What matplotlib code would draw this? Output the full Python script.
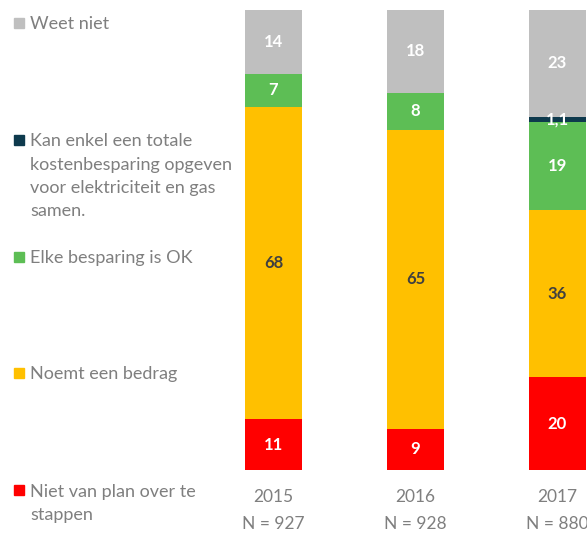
import matplotlib
matplotlib.use("Agg")
import matplotlib.pyplot as plt
import numpy as np

plt.rcParams['font.family'] = ['Lato', 'DejaVu Sans']

years = ["2015", "2016", "2017"]
n_labels = ["N = 927", "N = 928", "N = 880"]
categories = ["Niet van plan over te\nstappen", "Noemt een bedrag", "Elke besparing is OK",
              "Kan enkel een totale\nkostenbesparing opgeven\nvoor elektriciteit en gas\nsamen.",
              "Weet niet"]
niet_van_plan = [11, 9, 20]
noemt_bedrag = [68, 65, 36]
elke_besparing = [7, 8, 19]
kan_enkel_totaal = [0, 0, 1.1]
weet_niet = [14, 18, 23]

series = [niet_van_plan, noemt_bedrag, elke_besparing, kan_enkel_totaal, weet_niet]
colors = ["#FF0000", "#FFC000", "#5DBE55", "#0E3A4D", "#BFBFBF"]
label_colors = ["white", "#404040", "white", "white", "white"]

W, H = 587, 535
fig = plt.figure(figsize=(W / 100, H / 100), dpi=100)
ax = fig.add_axes([230 / W, (H - 470) / H, 357 / W, 460 / H])

x = np.arange(len(years))
totals = np.sum(np.array(series, dtype=float), axis=0)
bottom = np.zeros(len(years))
for vals, col, lc in zip(series, colors, label_colors):
    vals = np.array(vals, dtype=float)
    share = vals / totals * 100
    ax.bar(x, share, bottom=bottom, width=0.40, color=col, edgecolor='none')
    for xi, v, s, b in zip(x, vals, share, bottom):
        if v > 0:
            txt = f"{v:g}".replace('.', ',')
            ax.text(xi, b + s / 2, txt, ha='center', va='center', color=lc,
                    fontsize=12, fontweight='bold')
    bottom += share

ax.set_xlim(-0.307, 2.21)
ax.set_ylim(0, 100)
ax.axis('off')

for xi, yr, nl in zip(x, years, n_labels):
    ax.text(xi, -5.9, yr, ha='center', va='center', color='#7F7F7F', fontsize=12.5,
            clip_on=False)
    ax.text(xi, -11.8, nl, ha='center', va='center', color='#7F7F7F', fontsize=12.5,
            clip_on=False)

# legend (left side)
legend_y = [490, 373, 257, 140, 22.7]
for cat, col, yp in zip(categories, colors, legend_y):
    fy = 1 - yp / H
    fig.patches.append(plt.Rectangle((14 / W, fy - 5 / H), 10 / W, 10 / H,
                                     transform=fig.transFigure, color=col, figure=fig))
    fig.text(30 / W, fy + 6.5 / H, cat, ha='left', va='top', color='#7F7F7F',
             fontsize=13, linespacing=1.55)

fig.savefig("out.png", dpi=100)
